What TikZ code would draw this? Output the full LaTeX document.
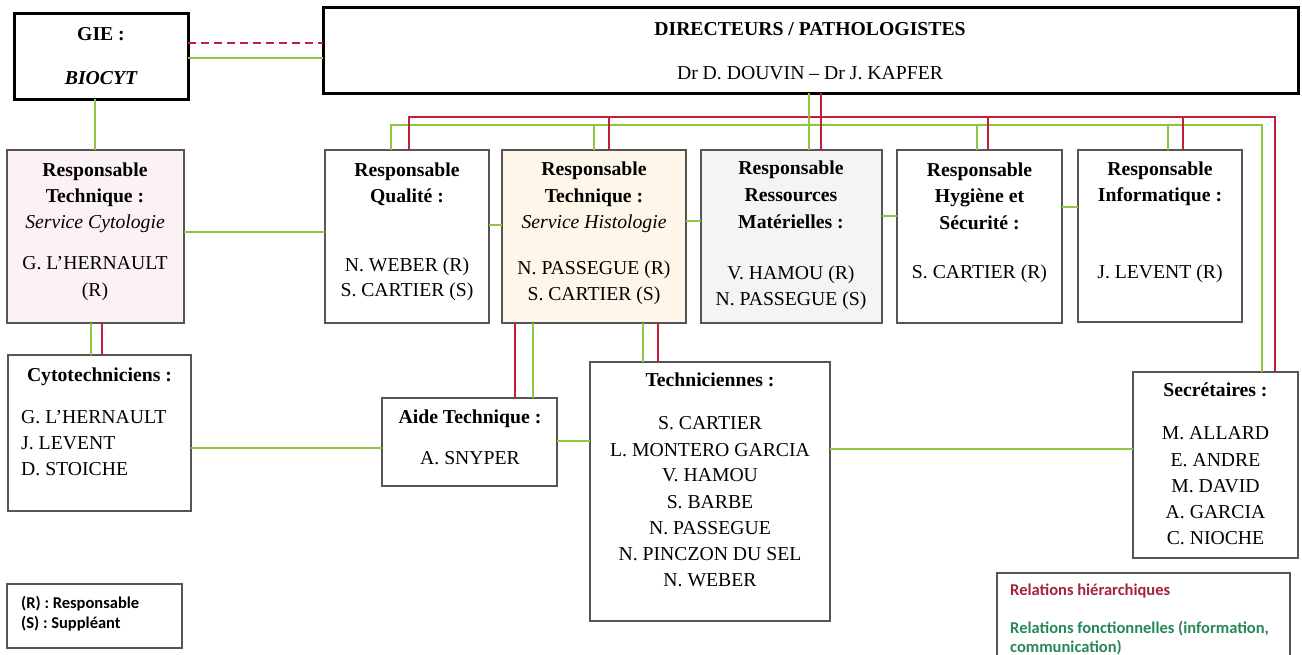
\documentclass[tikz,border=0pt]{standalone}
\usepackage{fontspec}
\setmainfont{Liberation Serif}
\newfontfamily\legfont{Carlito}
\definecolor{hier}{RGB}{192,32,60}
\definecolor{fonc}{RGB}{141,198,63}
\definecolor{boxline}{RGB}{85,85,85}
\definecolor{pinkfill}{RGB}{252,241,243}
\definecolor{creamfill}{RGB}{253,246,233}
\definecolor{grayfill}{RGB}{244,244,244}
\definecolor{legred}{RGB}{165,35,62}
\definecolor{leggreen}{RGB}{40,135,90}
\tikzset{
 box/.style={draw=boxline, line width=1.2pt, inner sep=0pt, outer sep=0pt, anchor=north west, fill=white},
 topbox/.style={draw=black, line width=3pt, inner sep=0pt, outer sep=0pt, anchor=north west, fill=white},
 hd/.style={font=\fontsize{19.7}{22}\selectfont\bfseries, anchor=base, inner sep=0pt},
 it/.style={font=\fontsize{19.7}{22}\selectfont\itshape, anchor=base, inner sep=0pt},
 nm/.style={font=\fontsize{19.7}{22}\selectfont, anchor=base, inner sep=0pt},
 hl/.style={draw=hier, line width=2pt},
 fl/.style={draw=fonc, line width=2pt},
 lg/.style={font=\legfont\fontsize{16.5}{18}\selectfont\bfseries, anchor=base west, inner sep=0pt},
}
\begin{document}
\begin{tikzpicture}[x=1pt,y=-1pt]
\useasboundingbox (0,0) rectangle (1302,654);
\clip (0,0) rectangle (1302,654);
% boxes
\node[topbox, minimum width=174pt, minimum height=86pt] (gie) at (14,13) {};
\node[topbox, minimum width=975pt, minimum height=86pt] (dir) at (323,7) {};
\node[box, fill=pinkfill, minimum width=177pt, minimum height=173pt] (cyto) at (7,150) {};
\node[box, minimum width=164pt, minimum height=173pt] (qual) at (325,150) {};
\node[box, fill=creamfill, minimum width=184pt, minimum height=173pt] (histo) at (502,150) {};
\node[box, fill=grayfill, minimum width=181pt, minimum height=173pt] (ress) at (701,150) {};
\node[box, minimum width=165pt, minimum height=173pt] (hyg) at (897,150) {};
\node[box, minimum width=164pt, minimum height=172pt] (info) at (1078,150) {};
\node[box, minimum width=183pt, minimum height=156pt] (cytotech) at (8,355) {};
\node[box, minimum width=175pt, minimum height=88pt] (aide) at (382,398) {};
\node[box, minimum width=240pt, minimum height=259pt] (techn) at (590,362) {};
\node[box, minimum width=165pt, minimum height=186pt] (secr) at (1133,372) {};
\node[box, minimum width=175pt, minimum height=64pt] (legRS) at (7,584) {};
\node[box, minimum width=293pt, minimum height=95pt] (legRel) at (997,573) {};
% bus coordinates
\coordinate (rL) at (409,117);
\coordinate (rR) at (1275,117);
\coordinate (gL) at (391,125);
\coordinate (gR) at (1262,125);
% connectors
\draw[hl, line width=2.5pt, dash pattern=on 8pt off 5pt] (gie.east |- 0,43) -- (dir.west |- 0,43);
\draw[fl] (gie.east |- 0,58) -- (dir.west |- 0,58);
\draw[fl] (gie.south -| 95,0) -- (cyto.north -| 95,0);
\draw[fl] (qual.north -| gL) -- (gL) -- (gR) -- (secr.north -| gR);
\draw[hl] (qual.north -| rL) -- (rL) -- (rR) -- (secr.north -| rR);
\draw[fl] (dir.south -| 809,0) -- (ress.north -| 809,0);
\draw[hl] (dir.south -| 821,0) -- (ress.north -| 821,0);
\draw[fl] (594,125) -- (histo.north -| 594,0);
\draw[hl] (609,117) -- (histo.north -| 609,0);
\draw[fl] (977,125) -- (hyg.north -| 977,0);
\draw[hl] (988,117) -- (hyg.north -| 988,0);
\draw[fl] (1168,125) -- (info.north -| 1168,0);
\draw[hl] (1183,117) -- (info.north -| 1183,0);
\draw[fl] (cyto.east |- 0,232) -- (qual.west |- 0,232);
\draw[fl] (qual.east |- 0,225) -- (histo.west |- 0,225);
\draw[fl] (histo.east |- 0,221) -- (ress.west |- 0,221);
\draw[fl] (ress.east |- 0,216) -- (hyg.west |- 0,216);
\draw[fl] (hyg.east |- 0,207) -- (info.west |- 0,207);
\draw[fl] (cyto.south -| 91,0) -- (cytotech.north -| 91,0);
\draw[hl] (cyto.south -| 102,0) -- (cytotech.north -| 102,0);
\draw[fl] (cytotech.east |- 0,448) -- (aide.west |- 0,448);
\draw[hl] (histo.south -| 515,0) -- (aide.north -| 515,0);
\draw[fl] (histo.south -| 533,0) -- (aide.north -| 533,0);
\draw[fl] (histo.south -| 643,0) -- (techn.north -| 643,0);
\draw[hl] (histo.south -| 658,0) -- (techn.north -| 658,0);
\draw[fl] (aide.east |- 0,441) -- (techn.west |- 0,441);
\draw[fl] (techn.east |- 0,449) -- (secr.west |- 0,449);
% texts
\node[hd] (gieA) at (101,40) {GIE :};
\node[hd, font=\fontsize{19.7}{22}\selectfont\bfseries\itshape] (gieB) at (101,84) {BIOCYT};
\node[hd] (dirA) at (810,35) {DIRECTEURS / PATHOLOGISTES};
\node[nm] (dirB) at (810,79) {Dr D. DOUVIN – Dr J. KAPFER};
\node[hd] (cytoA) at (95,176.5) {Responsable};
\node[hd] (cytoB) at (95,202.5) {Technique :};
\node[it] (cytoC) at (95,228.5) {Service Cytologie};
\node[nm] (cytoD) at (95,269.5) {G. L’HERNAULT};
\node[nm] (cytoE) at (95,296.5) {(R)};
\node[hd] (qualA) at (407,176.5) {Responsable};
\node[hd] (qualB) at (407,202.5) {Qualité :};
\node[nm] (qualC) at (407,271.5) {N. WEBER (R)};
\node[nm] (qualD) at (407,296.5) {S. CARTIER (S)};
\node[hd] (histoA) at (594,175.5) {Responsable};
\node[hd] (histoB) at (594,202.5) {Technique :};
\node[it] (histoC) at (594,228.5) {Service Histologie};
\node[nm] (histoD) at (594,274.5) {N. PASSEGUE (R)};
\node[nm] (histoE) at (594,300.5) {S. CARTIER (S)};
\node[hd] (ressA) at (791,174.5) {Responsable};
\node[hd] (ressB) at (791,201.5) {Ressources};
\node[hd] (ressC) at (791,228.5) {Matérielles :};
\node[nm] (ressD) at (791,279.5) {V. HAMOU (R)};
\node[nm] (ressE) at (791,305.5) {N. PASSEGUE (S)};
\node[hd] (hygA) at (979.5,176.5) {Responsable};
\node[hd] (hygB) at (979.5,202.5) {Hygiène et};
\node[hd] (hygC) at (979.5,229.5) {Sécurité :};
\node[nm] (hygD) at (979.5,278.5) {S. CARTIER (R)};
\node[hd] (infoA) at (1160,175.5) {Responsable};
\node[hd] (infoB) at (1160,201.5) {Informatique :};
\node[nm] (infoC) at (1160,278.5) {J. LEVENT (R)};
\node[hd] (ctA) at (99.5,381.5) {Cytotechniciens :};
\node[nm, anchor=base west] (ctB) at (21,423.5) {G. L’HERNAULT};
\node[nm, anchor=base west] (ctC) at (21,449.5) {J. LEVENT};
\node[nm, anchor=base west] (ctD) at (21,475.5) {D. STOICHE};
\node[hd] (aideA) at (470,423.5) {Aide Technique :};
\node[nm] (aideB) at (470,464.5) {A. SNYPER};
\node[hd] (tcA) at (710,386.5) {Techniciennes :};
\node[nm] (tcB) at (710,429.5) {S. CARTIER};
\node[nm] (tcC) at (710,456.5) {L. MONTERO GARCIA};
\node[nm] (tcD) at (710,481.5) {V. HAMOU};
\node[nm] (tcE) at (710,508.5) {S. BARBE};
\node[nm] (tcF) at (710,534.5) {N. PASSEGUE};
\node[nm] (tcG) at (710,560.5) {N. PINCZON DU SEL};
\node[nm] (tcH) at (710,586.5) {N. WEBER};
\node[hd] (seA) at (1215.5,396.5) {Secrétaires :};
\node[nm] (seB) at (1215.5,439.5) {M. ALLARD};
\node[nm] (seC) at (1215.5,466.5) {E. ANDRE};
\node[nm] (seD) at (1215.5,492.5) {M. DAVID};
\node[nm] (seE) at (1215.5,518.5) {A. GARCIA};
\node[nm] (seF) at (1215.5,544.5) {C. NIOCHE};
\node[lg] (rsA) at (21,608) {(R) : Responsable};
\node[lg] (rsB) at (21,628) {(S) : Suppléant};
\node[lg, text=legred] (relA) at (1010,595) {Relations hiérarchiques};
\node[lg, text=leggreen] (relB) at (1010,633) {Relations fonctionnelles (information,};
\node[lg, text=leggreen] (relC) at (1010,652) {communication)};
\end{tikzpicture}
\end{document}
